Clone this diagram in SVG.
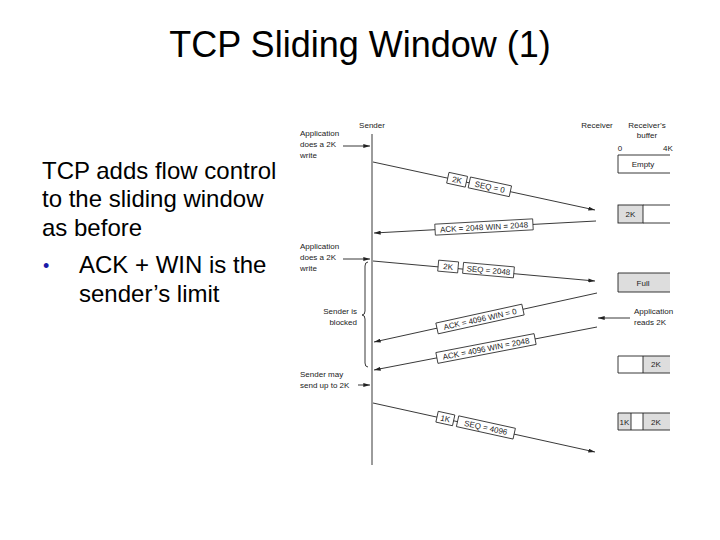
<svg xmlns="http://www.w3.org/2000/svg" width="720" height="540" viewBox="0 0 720 540">
<style>
.t{font-family:"Liberation Sans",Arial,sans-serif;fill:#000}
.s{font-family:"Liberation Sans",Arial,sans-serif;font-size:8px;fill:#222}
.ln{stroke:#222;stroke-width:0.9;fill:none}
.bx{fill:#fff;stroke:#222;stroke-width:0.8}
.lb{font-family:"Liberation Sans",Arial,sans-serif;font-size:8px;fill:#222;text-anchor:middle}
</style>
<defs>
<marker id="ah" viewBox="0 0 10 6" refX="10" refY="3" markerWidth="7" markerHeight="4" orient="auto" markerUnits="userSpaceOnUse">
<path d="M0,0 L10,3 L0,6 z" fill="#222"/>
</marker>
</defs>
<rect width="720" height="540" fill="#fff"/>
<g id="title"><text class="t" x="360" y="57" font-size="36" text-anchor="middle">TCP Sliding Window (1)</text></g>
<g id="bullets" class="t" font-size="24">
<text x="42" y="179">TCP adds flow control</text>
<text x="42" y="207">to the sliding window</text>
<text x="42" y="236">as before</text>
<text x="43" y="272" fill="#1a1aa8" font-size="18">•</text>
<text x="79" y="273">ACK + WIN is the</text>
<text x="79" y="302">sender’s limit</text>
</g>
<g id="sender">
<text class="s" x="372" y="128" text-anchor="middle">Sender</text>
<line class="ln" x1="372" y1="134" x2="372" y2="465" stroke-width="1.2"/>
</g>
<g id="receiver-label">
<text class="s" x="597" y="128" text-anchor="middle">Receiver</text>
<text class="s" x="647" y="128" text-anchor="middle">Receiver’s</text>
<text class="s" x="647" y="138" text-anchor="middle">buffer</text>
<text class="s" x="620" y="151" text-anchor="middle">0</text>
<text class="s" x="668" y="151" text-anchor="middle">4K</text>
</g>
<g id="sender-notes">
<text class="s" x="300" y="136">Application</text>
<text class="s" x="300" y="147">does a 2K</text>
<text class="s" x="300" y="158">write</text>
<text class="s" x="300" y="249">Application</text>
<text class="s" x="300" y="260">does a 2K</text>
<text class="s" x="300" y="271">write</text>
<text class="s" x="357" y="314" text-anchor="end">Sender is</text>
<text class="s" x="357" y="325" text-anchor="end">blocked</text>
<text class="s" x="300" y="377">Sender may</text>
<text class="s" x="300" y="388">send up to 2K</text>
<path class="ln" d="M368,262 Q365,262 365,266 L365,311 Q365,315 362,315 Q365,315 365,319 L365,363 Q365,367 368,367" stroke-width="0.7"/>
</g>
<g id="connectors">
<line class="ln" x1="343" y1="146" x2="370" y2="146" marker-end="url(#ah)"/>
<line class="ln" x1="343" y1="259" x2="370" y2="259" marker-end="url(#ah)"/>
<line class="ln" x1="358" y1="385" x2="370" y2="385" marker-end="url(#ah)"/>
<line class="ln" x1="630" y1="318" x2="598" y2="318" marker-end="url(#ah)"/>
<line class="ln" x1="373" y1="162" x2="595" y2="210" marker-end="url(#ah)"/>
<line class="ln" x1="596" y1="221" x2="374" y2="233" marker-end="url(#ah)"/>
<line class="ln" x1="373" y1="261" x2="595" y2="281" marker-end="url(#ah)"/>
<line class="ln" x1="597" y1="293" x2="374" y2="342" marker-end="url(#ah)"/>
<line class="ln" x1="597" y1="327" x2="374" y2="370" marker-end="url(#ah)"/>
<line class="ln" x1="373" y1="403" x2="595" y2="452" marker-end="url(#ah)"/>
</g>
<g id="seg1" transform="translate(479,185) rotate(12.2)">
<rect class="bx" x="-32" y="-6" width="19" height="11"/>
<text class="lb" x="-22.5" y="2.5">2K</text>
<rect class="bx" x="-10" y="-6" width="42" height="11"/>
<text class="lb" x="11" y="2.5">SEQ = 0</text>
</g>
<g id="ack1" transform="translate(484,227) rotate(-3.1)">
<rect class="bx" x="-49" y="-5.5" width="98" height="11"/>
<text class="lb" x="0" y="3">ACK = 2048 WIN = 2048</text>
</g>
<g id="seg2" transform="translate(476,269.5) rotate(5.1)">
<rect class="bx" x="-38" y="-6" width="20" height="11"/>
<text class="lb" x="-28" y="2.5">2K</text>
<rect class="bx" x="-13" y="-6" width="51" height="11"/>
<text class="lb" x="12.5" y="2.5">SEQ = 2048</text>
</g>
<g id="ack2" transform="translate(480,319) rotate(-12.4)">
<rect class="bx" x="-44" y="-5.5" width="88" height="11"/>
<text class="lb" x="0" y="3">ACK = 4096 WIN = 0</text>
</g>
<g id="ack3" transform="translate(486,348.5) rotate(-10.9)">
<rect class="bx" x="-50" y="-5.5" width="100" height="11"/>
<text class="lb" x="0" y="3">ACK = 4096 WIN = 2048</text>
</g>
<g id="seg3" transform="translate(477,426) rotate(12.4)">
<rect class="bx" x="-41" y="-6" width="17" height="11"/>
<text class="lb" x="-32.5" y="2.5">1K</text>
<rect class="bx" x="-20" y="-6" width="58" height="11"/>
<text class="lb" x="9" y="2.5">SEQ = 4096</text>
</g>
<g id="buf-empty">
<path class="ln" d="M670,155 H618 V173 H670" stroke-width="0.9"/>
<text class="s" x="643" y="167" text-anchor="middle">Empty</text>
</g>
<g id="buf-2k">
<rect x="618" y="205" width="25" height="18" fill="#ddd" stroke="#222" stroke-width="0.9"/>
<path class="ln" d="M643,205 H670 M643,223 H670"/>
<text class="s" x="630.5" y="217" text-anchor="middle">2K</text>
</g>
<g id="buf-full">
<rect x="618" y="273" width="52" height="19" fill="#ddd"/>
<path class="ln" d="M670,273 H618 V292 H670"/>
<text class="s" x="643" y="286" text-anchor="middle">Full</text>
</g>
<g id="app-reads">
<text class="s" x="634" y="314">Application</text>
<text class="s" x="634" y="325">reads 2K</text>
</g>
<g id="buf-free">
<rect x="643" y="356" width="27" height="17" fill="#ddd"/>
<path class="ln" d="M670,356 H618 V373 H670 M643,356 V373"/>
<text class="s" x="656" y="367" text-anchor="middle">2K</text>
</g>
<g id="buf-last">
<rect x="618" y="413" width="13" height="17" fill="#ddd"/>
<rect x="643" y="413" width="27" height="17" fill="#ddd"/>
<path class="ln" d="M670,413 H618 V430 H670 M631,413 V430 M643,413 V430"/>
<text class="s" x="624.5" y="424.5" text-anchor="middle">1K</text>
<text class="s" x="656" y="424.5" text-anchor="middle">2K</text>
</g>
</svg>
